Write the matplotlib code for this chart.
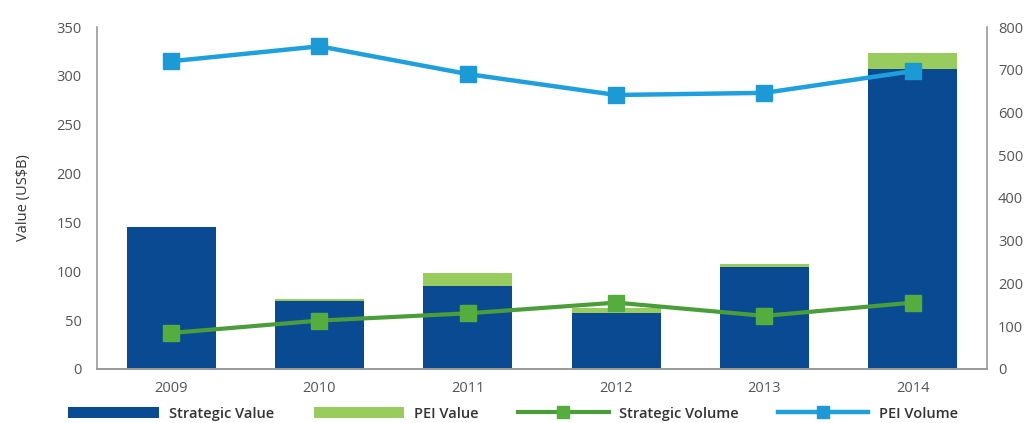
import numpy as np
import matplotlib.pyplot as plt

plt.rcParams['font.family'] = ['Open Sans', 'DejaVu Sans']

years = ['2009', '2010', '2011', '2012', '2013', '2014']
strategic_value = [145, 69, 85, 57, 104, 307]
pei_value = [0, 3, 13, 5, 3.5, 16]
strategic_volume = [84, 113, 130, 155, 124, 155]
pei_volume = [720, 755, 690, 641, 646, 697]

dark_blue = '#0a4a93'
light_green = '#98cc5c'
line_green = '#4a9e3a'
line_blue = '#1fa0dc'
grey = '#9a9a9a'
text_col = '#555555'

x = np.arange(len(years))

fig = plt.figure(figsize=(10.26, 4.23), dpi=100)
ax = fig.add_axes([0.0945, 0.128, 0.8675, 0.808])
ax2 = ax.twinx()

b1 = ax.bar(x, strategic_value, width=0.6, color=dark_blue, label='Strategic Value')
b2 = ax.bar(x, pei_value, width=0.6, bottom=strategic_value, color=light_green, label='PEI Value')

l1, = ax2.plot(x, strategic_volume, color=line_green, lw=3, marker='s', ms=11,
               markerfacecolor='#55ad3e', markeredgecolor='#55ad3e', label='Strategic Volume')
l2, = ax2.plot(x, pei_volume, color=line_blue, lw=3.2, marker='s', ms=11,
               markerfacecolor='#1c9ad6', markeredgecolor='#1c9ad6', label='PEI Volume')

ax.set_xlim(-0.5, 5.5)
ax.set_ylim(0, 350)
ax2.set_ylim(0, 800)
ax.set_yticks(range(0, 351, 50))
ax2.set_yticks(range(0, 801, 100))
ax.set_xticks(x)
ax.set_xticklabels(years)

for a in (ax, ax2):
    a.spines['top'].set_visible(False)
    for s in ('left', 'right', 'bottom'):
        a.spines[s].set_color(grey)
        a.spines[s].set_linewidth(1.2)
    a.tick_params(length=0, labelsize=10.5, colors=text_col)
ax2.spines['left'].set_visible(False)
ax.spines['right'].set_visible(False)
ax.tick_params(axis='y', pad=11)
ax.tick_params(axis='x', pad=9)
ax2.tick_params(axis='y', pad=8)

ax.set_ylabel('Value (US$B)', fontsize=10.5, color='#333333', labelpad=18)

leg = fig.legend(handles=[b1, b2, l1, l2], loc='center', bbox_to_anchor=(0.5, 0.022),
                 ncol=4, frameon=False, prop={'size': 10.5, 'weight': 'semibold'},
                 handlelength=6.2, columnspacing=2.7, handletextpad=0.7,
                 handleheight=0.8, labelcolor='#333333')
for h in leg.legend_handles[2:]:
    h.set_markersize(9)

fig.savefig('out.png', dpi=100)
